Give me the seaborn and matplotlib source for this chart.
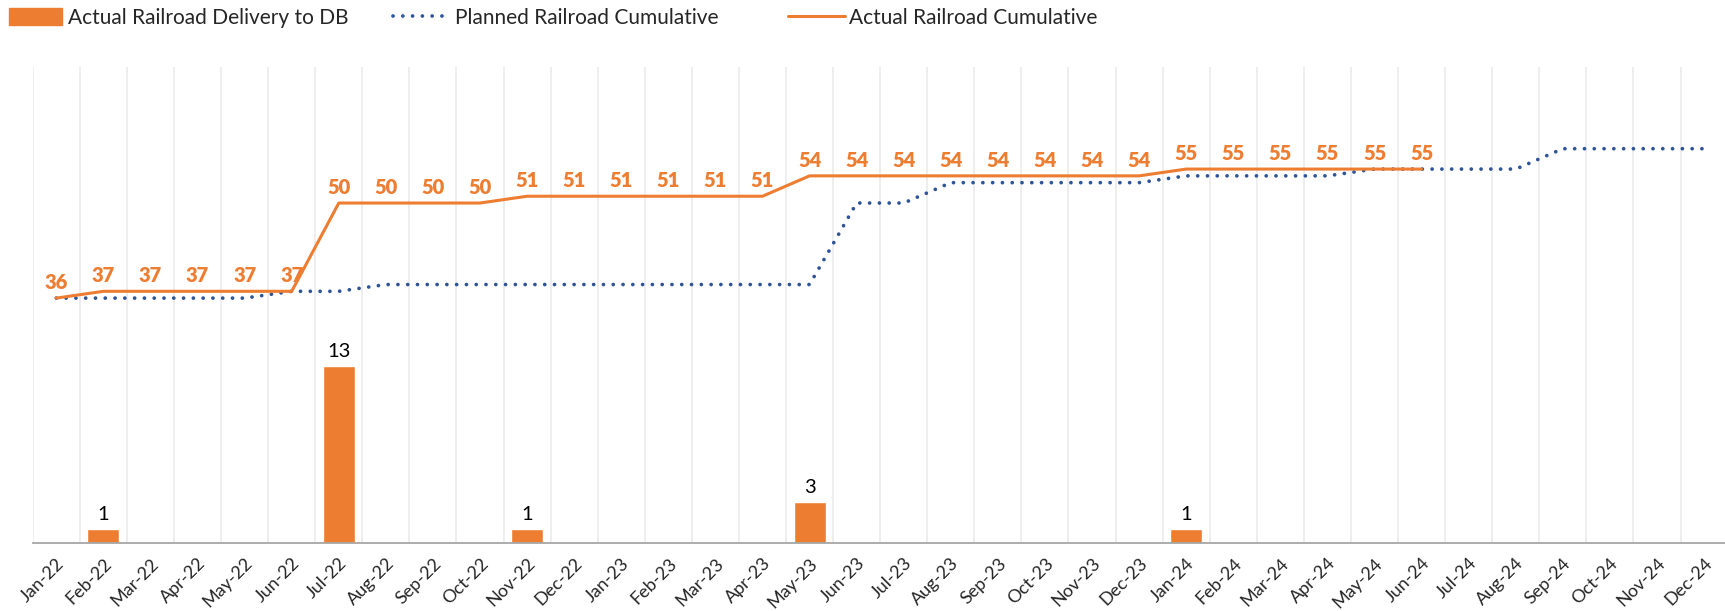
import numpy as np
import pandas as pd
import matplotlib
matplotlib.use("Agg")
import matplotlib.pyplot as plt
import seaborn as sns
from matplotlib.patches import Patch
from matplotlib.lines import Line2D

months = ["Jan-22", "Feb-22", "Mar-22", "Apr-22", "May-22", "Jun-22", "Jul-22", "Aug-22",
          "Sep-22", "Oct-22", "Nov-22", "Dec-22", "Jan-23", "Feb-23", "Mar-23", "Apr-23",
          "May-23", "Jun-23", "Jul-23", "Aug-23", "Sep-23", "Oct-23", "Nov-23", "Dec-23",
          "Jan-24", "Feb-24", "Mar-24", "Apr-24", "May-24", "Jun-24", "Jul-24", "Aug-24",
          "Sep-24", "Oct-24", "Nov-24", "Dec-24"]

delivery = [0, 1, 0, 0, 0, 0, 13, 0, 0, 0, 1, 0, 0, 0, 0, 0,
            3, 0, 0, 0, 0, 0, 0, 0, 1, 0, 0, 0, 0, 0, 0, 0,
            0, 0, 0, 0]

planned_cum = [36, 36, 36, 36, 36, 37, 37, 38, 38, 38, 38, 38, 38, 38, 38, 38,
               38, 50, 50, 53, 53, 53, 53, 53, 54, 54, 54, 54, 55, 55, 55, 55,
               58, 58, 58, 58]

actual_cum = [36, 37, 37, 37, 37, 37, 50, 50, 50, 50, 51, 51, 51, 51, 51, 51,
              54, 54, 54, 54, 54, 54, 54, 54, 55, 55, 55, 55, 55, 55]

ORANGE = "#ED7D31"
BLUE = "#2F5597"
GRID = "#EBEBEB"
AXIS = "#A6A6A6"

sns.set_theme(style="white")
plt.rcParams["font.family"] = ["Lato", "DejaVu Sans"]

fig = plt.figure(figsize=(17.25, 6.11), dpi=100)
ax = fig.add_axes([0.019, 0.112, 0.9825, 0.778])

n = len(months)
df_bar = pd.DataFrame({"month": months, "delivery": delivery})
sns.barplot(data=df_bar, x="month", y="delivery", color=ORANGE, saturation=1,
            width=0.68, ax=ax, zorder=2)
ax.set_ylim(0, 35)
ax.set_xlim(-0.5, n - 0.5)

for i, v in enumerate(delivery):
    if v > 0:
        ax.annotate(str(v), xy=(i, v), xytext=(0, 4), textcoords="offset points",
                    ha="center", va="bottom", fontsize=14.5, color="black")

ax2 = ax.twinx()
x_idx = np.arange(n)
sns.lineplot(x=x_idx, y=planned_cum, ax=ax2, color=BLUE, lw=2.7,
             linestyle=(0, (0.01, 2.6)), dash_capstyle="round", zorder=3)
sns.lineplot(x=x_idx[:len(actual_cum)], y=actual_cum, ax=ax2, color=ORANGE, lw=2.2, zorder=4)
ax2.set_ylim(0, 70)
ax2.set_xlim(-0.5, n - 0.5)

for i, v in enumerate(actual_cum):
    ax2.annotate(str(v), xy=(i, v), xytext=(0, 4.5), textcoords="offset points",
                 ha="center", va="bottom", fontsize=14.5, fontweight="heavy", color=ORANGE)

# axes styling
for a in (ax, ax2):
    for s in ["top", "right", "left"]:
        a.spines[s].set_visible(False)
    a.set_yticks([])
    a.set_ylabel("")
    a.set_xlabel("")
ax2.spines["bottom"].set_visible(False)
ax.spines["bottom"].set_color(AXIS)
ax.spines["bottom"].set_linewidth(1.3)

ax.set_xticks(range(n))
ax.set_xticklabels(months, rotation=45, ha="right", rotation_mode="anchor",
                   fontsize=13, color="#262626")
ax.tick_params(axis="x", which="major", length=0, pad=9)
ax.set_xticks(np.arange(-0.5, n, 1.0), minor=True)
ax.tick_params(axis="x", which="minor", length=6, width=1.2, color=AXIS, direction="out")
ax.grid(False)
ax.xaxis.grid(True, which="minor", color=GRID, lw=1.2, zorder=0)
ax.set_axisbelow(True)
ax2.grid(False)

# legend
leg_fs = 15
common = dict(loc="center left", frameon=False, fontsize=leg_fs,
              borderpad=0, borderaxespad=0)
fig.legend(handles=[Patch(facecolor=ORANGE, edgecolor=ORANGE)],
           labels=["Actual Railroad Delivery to DB"], bbox_to_anchor=(0.005, 0.971),
           handlelength=2.55, handleheight=0.85, handletextpad=0.3, **common)
fig.legend(handles=[Line2D([], [], color=BLUE, lw=2.7, linestyle=(0, (0.01, 2.6)),
                           dash_capstyle="round")],
           labels=["Planned Railroad Cumulative"], bbox_to_anchor=(0.228, 0.971),
           handlelength=2.7, handletextpad=0.25, **common)
fig.legend(handles=[Line2D([], [], color=ORANGE, lw=2.2)],
           labels=["Actual Railroad Cumulative"], bbox_to_anchor=(0.457, 0.971),
           handlelength=2.7, handletextpad=0.2, **common)

fig.savefig("out.png", dpi=100, facecolor="white")
